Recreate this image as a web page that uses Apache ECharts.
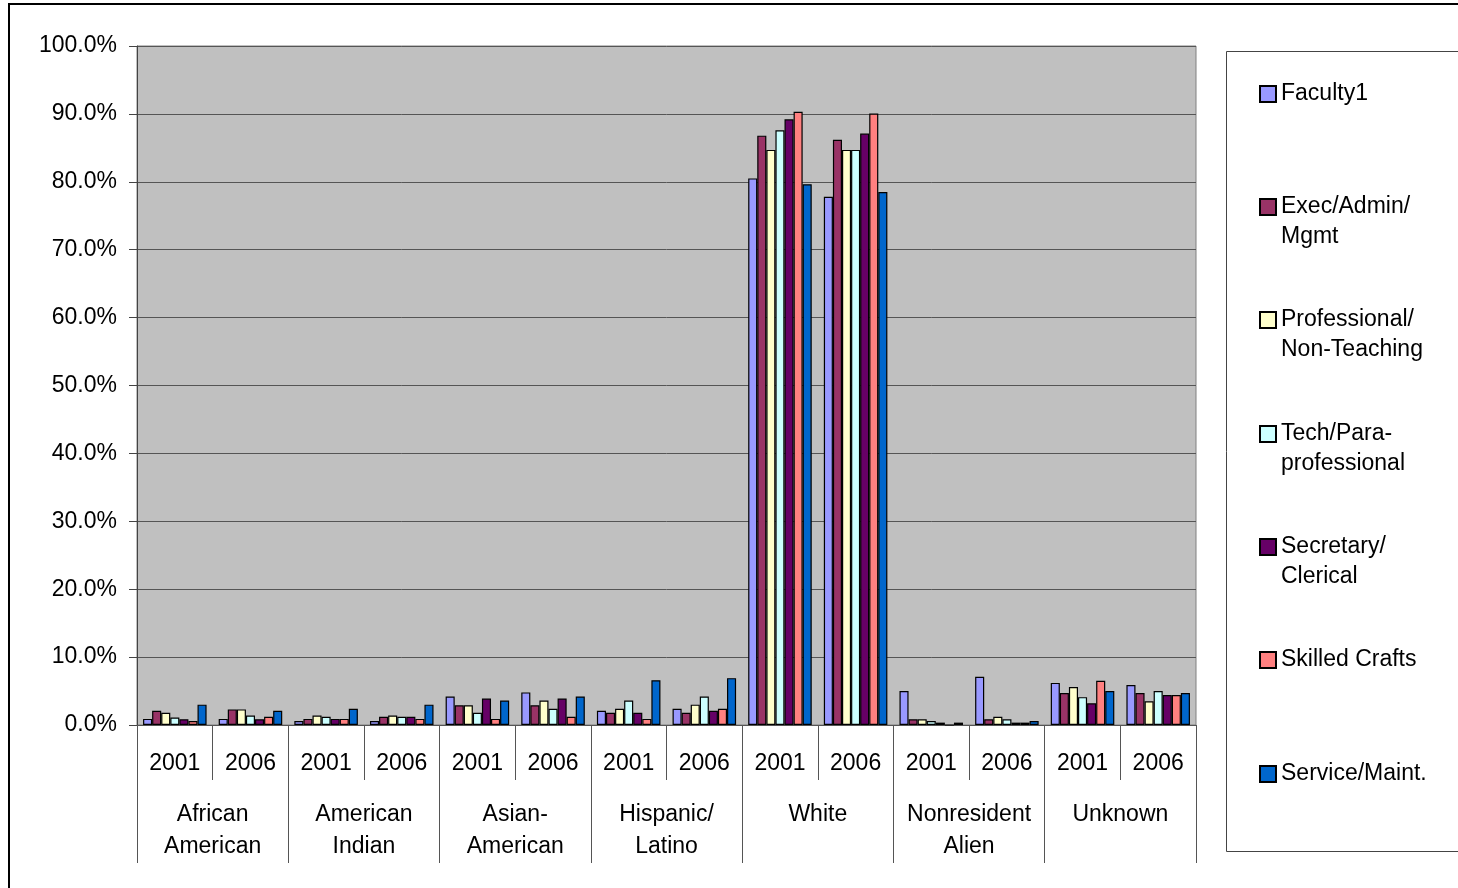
<!DOCTYPE html>
<html>
<head>
<meta charset="utf-8">
<script src="https://cdn.jsdelivr.net/npm/echarts@6/dist/echarts.min.js"></script>
<style>
html,body{margin:0;padding:0;background:#fff;}
#chart{width:1458px;height:888px;}
</style>
</head>
<body>
<div id="chart"></div>
<script>
// ---- data (percent) ----
const years = ['2001','2006','2001','2006','2001','2006','2001','2006','2001','2006','2001','2006','2001','2006'];
const groups = ['African\nAmerican','American\nIndian','Asian-\nAmerican','Hispanic/\nLatino','White','Nonresident\nAlien','Unknown'];
const seriesNames = ['Faculty1','Exec/Admin/\nMgmt','Professional/\nNon-Teaching','Tech/Para-\nprofessional','Secretary/\nClerical','Skilled Crafts','Service/Maint.'];
const faculty   = [0.9, 0.9, 0.6, 0.6, 4.2, 4.8, 2.1, 2.4, 80.5, 77.8, 5.0, 7.1, 6.2, 5.9];
const exec      = [2.1, 2.3, 0.9, 1.2, 2.9, 2.9, 1.8, 1.8, 86.8, 86.2, 0.85, 0.85, 4.7, 4.7];
const prof      = [1.8, 2.3, 1.4, 1.4, 2.9, 3.6, 2.4, 3.0, 84.7, 84.7, 0.85, 1.2, 5.6, 3.5];
const tech      = [1.1, 1.4, 1.2, 1.2, 1.8, 2.4, 3.6, 4.2, 87.6, 84.7, 0.6, 0.85, 4.1, 5.0];
const secretary = [0.85, 0.85, 0.9, 1.2, 3.9, 3.9, 1.8, 2.1, 89.2, 87.1, 0.35, 0.35, 3.2, 4.4];
const skilled   = [0.6, 1.2, 0.9, 0.9, 0.9, 1.2, 0.9, 2.4, 90.3, 90.05, 0, 0.35, 6.5, 4.4];
const service   = [3.0, 2.1, 2.4, 3.0, 3.6, 4.2, 6.6, 6.9, 79.65, 78.5, 0.35, 0.6, 5.0, 4.7];
const seriesData = [faculty, exec, prof, tech, secretary, skilled, service];
const colors = ['#9999FF','#993366','#FFFFCC','#CCFFFF','#660066','#FF8080','#0066CC'];
const legendCenters = [94, 207, 320, 434, 547, 660, 774];

const FONT = "'Liberation Sans', Arial, sans-serif";
const FS = 23;

const chart = echarts.init(document.getElementById('chart'), null, {renderer:'canvas'});

const legends = seriesNames.map((n, i) => {
  const two = n.indexOf('\n') >= 0;
  return {
    data: [n],
    orient: 'vertical',
    left: 1259,
    top: two ? legendCenters[i] - 45 : legendCenters[i] - 15,
    padding: 0,
    itemWidth: 16,
    itemHeight: 16,
    itemGap: 0,
    selectedMode: false,
    icon: 'rect',
    formatter: name => (two ? ' \n' + name : name),
    textStyle: {fontFamily: FONT, fontSize: FS, color: '#000', lineHeight: 30}
  };
});

const option = {
  backgroundColor: '#fff',
  animation: false,
  color: colors,
  textStyle: {fontFamily: FONT},
  graphic: [
    {type:'rect', shape:{x:9, y:4, width:1500, height:950}, style:{fill:'none', stroke:'#000', lineWidth:2}, silent:true},
    {type:'rect', shape:{x:1226.5, y:51.5, width:300, height:800}, style:{fill:'#fff', stroke:'#444', lineWidth:1}, silent:true, z:-1}
  ],
  legend: legends,
  grid: {
    left: 137, top: 46, right: 262, bottom: 163,
    show: true, backgroundColor: '#C0C0C0', borderColor: '#808080', borderWidth: 1
  },
  xAxis: [
    {
      type: 'category', data: years, position: 'bottom',
      axisLine: {show: true, lineStyle: {color: '#555', width: 1}},
      axisTick: {show: true, length: 55, interval: 0, lineStyle: {color: '#555'}},
      axisLabel: {interval: 0, margin: 27, fontSize: FS, color: '#000', fontFamily: FONT},
      splitLine: {show: false}
    },
    {
      type: 'category', data: groups, position: 'bottom',
      axisLine: {show: false},
      axisTick: {show: true, length: 138, interval: 0, lineStyle: {color: '#555'}},
      axisLabel: {interval: 0, margin: 74, fontSize: FS, lineHeight: 32, color: '#000', fontFamily: FONT},
      splitLine: {show: false}
    }
  ],
  yAxis: {
    type: 'value', min: 0, max: 100, interval: 10,
    axisLine: {show: true, lineStyle: {color: '#444', width: 1}},
    axisTick: {show: true, length: 8, lineStyle: {color: '#444'}},
    axisLabel: {margin: 20, fontSize: FS, color: '#000', fontFamily: FONT, padding: [4, 0, 0, 0], formatter: v => v.toFixed(1) + '%'},
    splitLine: {show: true, lineStyle: {color: '#555', width: 1}}
  },
  series: seriesNames.map((n, i) => ({
    name: n, type: 'bar', xAxisIndex: 0, data: seriesData[i],
    barGap: '0%', barCategoryGap: '16%',
    itemStyle: {color: colors[i], borderColor: '#000', borderWidth: 1.2}
  }))
};
chart.setOption(option);
</script>
</body>
</html>
